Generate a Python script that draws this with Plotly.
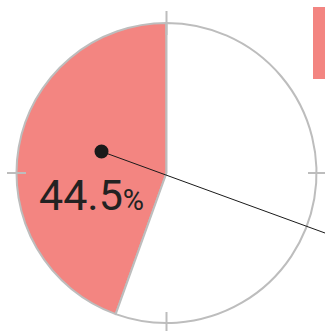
import plotly.graph_objects as go

labels = ["Share", "Rest"]
values = [44.5, 55.5]
colors = ["#F38581", "#FFFFFF"]

W, H = 325, 331
cx, cy, r = 166.5, 173.0, 150.0  # pixel centre / radius (from top-left)

def px(x):
    return x / W

def py(y):
    return 1 - y / H

share = values[0] / sum(values)
fig = go.Figure(go.Pie(
    labels=labels, values=values, sort=False, direction="clockwise",
    rotation=360 * (1 - share), textinfo="none", hoverinfo="none",
    marker=dict(colors=colors, line=dict(color="#BDBDBD", width=2)),
    domain=dict(x=[px(cx - r), px(cx + r)], y=[py(cy + r), py(cy - r)]),
    showlegend=False,
))

grey = "#BDBDBD"
shapes = [
    # crosshair ticks
    dict(type="line", xref="paper", yref="paper", x0=px(cx), x1=px(cx), y0=py(11), y1=py(35), line=dict(color=grey, width=2)),
    dict(type="line", xref="paper", yref="paper", x0=px(cx), x1=px(cx), y0=py(312), y1=py(331), line=dict(color=grey, width=2)),
    dict(type="line", xref="paper", yref="paper", x0=px(7), x1=px(26), y0=py(cy), y1=py(cy), line=dict(color=grey, width=2)),
    dict(type="line", xref="paper", yref="paper", x0=px(308), x1=px(325), y0=py(cy), y1=py(cy), line=dict(color=grey, width=2)),
    # leader line
    dict(type="line", xref="paper", yref="paper", x0=px(101.5), x1=px(325), y0=py(151.5), y1=py(233), line=dict(color="#1a1a1a", width=1)),
    # dot
    dict(type="circle", xref="paper", yref="paper", x0=px(94.5), x1=px(108.5), y0=py(158.5), y1=py(144.5),
         fillcolor="#1a1a1a", line=dict(width=0)),
    # legend swatch
    dict(type="rect", xref="paper", yref="paper", x0=px(313), x1=px(330), y0=py(79), y1=py(7),
         fillcolor=colors[0], line=dict(width=0)),
]

fig.add_annotation(
    x=px(91.5), y=py(195), xref="paper", yref="paper", showarrow=False,
    text=f"{values[0]}<span style='font-size:29px'>%</span>",
    font=dict(family="Roboto", size=43, color="#222222"),
    xanchor="center", yanchor="middle",
)

fig.update_layout(
    width=W, height=H, margin=dict(l=0, r=0, t=0, b=0),
    paper_bgcolor="white", plot_bgcolor="white", shapes=shapes,
)
fig.write_html("out.html")
